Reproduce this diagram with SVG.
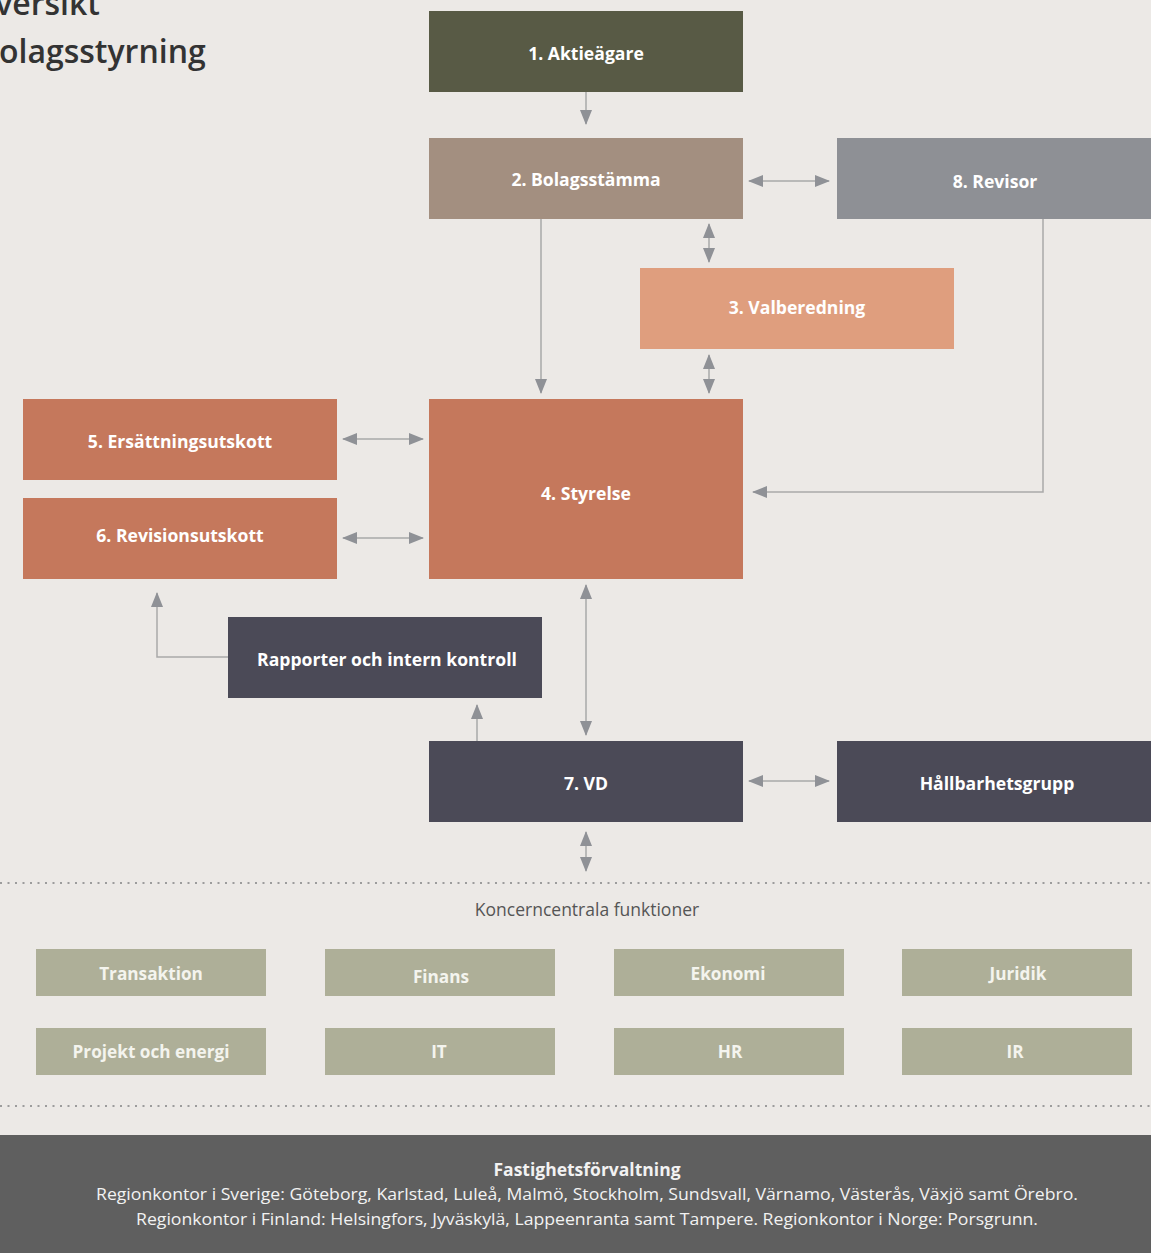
<svg xmlns="http://www.w3.org/2000/svg" width="1151" height="1253" viewBox="0 0 1151 1253">
<defs>
<style>
.bg{fill:#ECE9E6}
.nt{font-family:"Open Sans","Noto Sans","Liberation Sans",sans-serif;font-weight:700;font-size:17.6px;fill:#FFFFFF;text-anchor:middle}
.ft{font-family:"Open Sans","Noto Sans","Liberation Sans",sans-serif;font-weight:700;font-size:17.2px;fill:#F4F4EE;text-anchor:middle}
.title{font-family:"Open Sans","Noto Sans","Liberation Sans",sans-serif;font-weight:600;font-size:32px;fill:#333333}
.conn{stroke:#A9A9A9;stroke-width:1.5;fill:none}
.arr{marker-end:url(#ah)}
.darr{marker-start:url(#ah);marker-end:url(#ah)}
.dots{stroke:#9C9C9C;stroke-width:2;stroke-dasharray:2 5.5}
.small{font-family:"Open Sans","Noto Sans","Liberation Sans",sans-serif;font-size:17.5px;fill:#555555;text-anchor:middle}
.bt{font-family:"Open Sans","Noto Sans","Liberation Sans",sans-serif;font-size:16.5px;fill:#F2F2F2;text-anchor:middle}
.bth{font-family:"Open Sans","Noto Sans","Liberation Sans",sans-serif;font-size:17.5px;font-weight:700;fill:#F2F2F2;text-anchor:middle}
</style>
<marker id="ah" viewBox="0 0 15 12" markerUnits="userSpaceOnUse" markerWidth="15" markerHeight="12" refX="14" refY="6" orient="auto-start-reverse">
<path d="M0,0 L15,6 L0,12 z" fill="#8F9196"/>
</marker>
</defs>
<rect class="bg" x="0" y="0" width="1151" height="1253"/>

<g id="title">
<text class="title" x="-30" y="15">Översikt</text>
<text class="title" x="-21" y="63">bolagsstyrning</text>
</g>

<g id="connectors">
<line class="conn arr" x1="586" y1="92" x2="586" y2="124"/>
<line class="conn darr" x1="749" y1="181" x2="829" y2="181"/>
<line class="conn darr" x1="709" y1="224" x2="709" y2="262"/>
<line class="conn darr" x1="709" y1="355" x2="709" y2="393"/>
<line class="conn arr" x1="541" y1="219" x2="541" y2="393"/>
<polyline class="conn arr" points="1043,219 1043,492 753,492"/>
<line class="conn darr" x1="343" y1="439" x2="423" y2="439"/>
<line class="conn darr" x1="343" y1="538" x2="423" y2="538"/>
<line class="conn darr" x1="586" y1="585" x2="586" y2="735"/>
<polyline class="conn arr" points="228,657 157,657 157,593"/>
<line class="conn arr" x1="477" y1="741" x2="477" y2="705"/>
<line class="conn darr" x1="749" y1="781" x2="829" y2="781"/>
<line class="conn darr" x1="586" y1="832" x2="586" y2="871"/>
</g>

<g id="n1"><rect x="429" y="11" width="314" height="81" fill="#585A45"/><text class="nt" x="586" y="59.5">1. Aktieägare</text></g>
<g id="n2"><rect x="429" y="138" width="314" height="81" fill="#A38F80"/><text class="nt" x="586" y="185.5">2. Bolagsstämma</text></g>
<g id="n8"><rect x="837" y="138" width="314" height="81" fill="#8E9095"/><text class="nt" x="995" y="187.5">8. Revisor</text></g>
<g id="n3"><rect x="640" y="268" width="314" height="81" fill="#DF9E7E"/><text class="nt" x="797" y="313.5">3. Valberedning</text></g>
<g id="n4"><rect x="429" y="399" width="314" height="180" fill="#C5785C"/><text class="nt" x="586" y="499.5">4. Styrelse</text></g>
<g id="n5"><rect x="23" y="399" width="314" height="81" fill="#C5785C"/><text class="nt" x="180" y="447.5">5. Ersättningsutskott</text></g>
<g id="n6"><rect x="23" y="498" width="314" height="81" fill="#C5785C"/><text class="nt" x="180" y="541.5">6. Revisionsutskott</text></g>
<g id="nr"><rect x="228" y="617" width="314" height="81" fill="#4B4A57"/><text class="nt" x="387" y="665.5">Rapporter och intern kontroll</text></g>
<g id="n7"><rect x="429" y="741" width="314" height="81" fill="#4B4A57"/><text class="nt" x="586" y="789.5">7. VD</text></g>
<g id="nh"><rect x="837" y="741" width="314" height="81" fill="#4B4A57"/><text class="nt" x="997" y="789.5">Hållbarhetsgrupp</text></g>

<g id="separators">
<line class="dots" x1="0" y1="883" x2="1151" y2="883"/>
<line class="dots" x1="0" y1="1106" x2="1151" y2="1106"/>
<text class="small" x="587" y="916">Koncerncentrala funktioner</text>
</g>

<g id="f1"><rect x="36" y="949" width="230" height="47" fill="#AEAF98"/><text class="ft" x="151" y="979.5">Transaktion</text></g>
<g id="f2"><rect x="325" y="949" width="230" height="47" fill="#AEAF98"/><text class="ft" x="441" y="982.5">Finans</text></g>
<g id="f3"><rect x="614" y="949" width="230" height="47" fill="#AEAF98"/><text class="ft" x="728" y="979.5">Ekonomi</text></g>
<g id="f4"><rect x="902" y="949" width="230" height="47" fill="#AEAF98"/><text class="ft" x="1018" y="979.5">Juridik</text></g>
<g id="f5"><rect x="36" y="1028" width="230" height="47" fill="#AEAF98"/><text class="ft" x="151" y="1057.5">Projekt och energi</text></g>
<g id="f6"><rect x="325" y="1028" width="230" height="47" fill="#AEAF98"/><text class="ft" x="439" y="1057.5">IT</text></g>
<g id="f7"><rect x="614" y="1028" width="230" height="47" fill="#AEAF98"/><text class="ft" x="730" y="1057.5">HR</text></g>
<g id="f8"><rect x="902" y="1028" width="230" height="47" fill="#AEAF98"/><text class="ft" x="1015" y="1057.5">IR</text></g>

<g id="banner">
<rect x="0" y="1135" width="1151" height="118" fill="#5F5F5F"/>
<text class="bth" x="587" y="1176">Fastighetsförvaltning</text>
<text class="bt" x="587" y="1200" textLength="982" lengthAdjust="spacingAndGlyphs">Regionkontor i Sverige: Göteborg, Karlstad, Luleå, Malmö, Stockholm, Sundsvall, Värnamo, Västerås, Växjö samt Örebro.</text>
<text class="bt" x="587" y="1225" textLength="902" lengthAdjust="spacingAndGlyphs">Regionkontor i Finland: Helsingfors, Jyväskylä, Lappeenranta samt Tampere. Regionkontor i Norge: Porsgrunn.</text>
</g>
</svg>
